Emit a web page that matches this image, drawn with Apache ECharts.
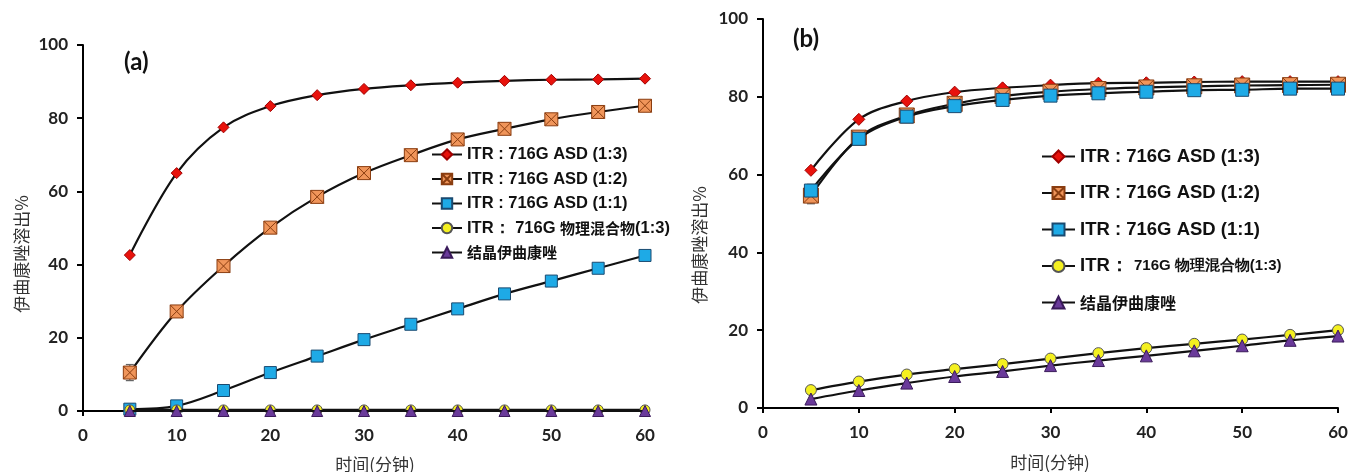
<!DOCTYPE html>
<html>
<head>
<meta charset="utf-8">
<script src="https://cdn.jsdelivr.net/npm/echarts@6/dist/echarts.min.js"></script>
<style>
html,body{margin:0;padding:0;background:#fff;}
#c{width:1356px;height:472px;}
</style>
</head>
<body>
<div id="c"></div>
<script>
// ---- data ----
const times = [5, 10, 15, 20, 25, 30, 35, 40, 45, 50, 55, 60];
const xTicks = [0, 10, 20, 30, 40, 50, 60];
const yTicks = [0, 20, 40, 60, 80, 100];
const seriesNames = ['ITR : 716G ASD (1:3)', 'ITR : 716G ASD (1:2)', 'ITR : 716G ASD (1:1)', 'ITR： 716G 物理混合物(1:3)', '结晶伊曲康唑'];
const panelLabels = ['(a)', '(b)'];
const xName = '时间(分钟)';
const yName = '伊曲康唑溶出%';

// panel (a)
const a13 = [42.6, 65.0, 77.5, 83.3, 86.3, 88.0, 89.0, 89.7, 90.2, 90.5, 90.6, 90.8];
const a12 = [10.5, 27.2, 39.6, 50.1, 58.5, 65.0, 69.9, 74.2, 77.1, 79.7, 81.7, 83.4];
const a11 = [0.5, 1.4, 5.6, 10.5, 15.0, 19.5, 23.7, 27.9, 32.0, 35.5, 39.0, 42.5];
const aPM = [0.3, 0.3, 0.3, 0.3, 0.3, 0.3, 0.3, 0.3, 0.3, 0.3, 0.3, 0.3];
const aCr = [0, 0, 0, 0, 0, 0, 0, 0, 0, 0, 0, 0];
// error bars (a): [time, low, high]
const aErr = [[5, 8.3, 12.7], [5, -0.8, 1.9], [60, 41.2, 43.8]];

// panel (b)
const b13 = [61.1, 74.2, 78.9, 81.2, 82.3, 83.0, 83.5, 83.6, 83.8, 83.9, 83.9, 83.9];
const b12 = [54.6, 69.5, 75.2, 78.2, 80.2, 81.3, 82.0, 82.4, 82.7, 82.9, 83.0, 83.1];
const b11 = [55.9, 69.2, 74.9, 77.6, 79.2, 80.3, 80.9, 81.3, 81.7, 81.8, 82.1, 82.1];
const bPM = [4.6, 6.8, 8.6, 10.0, 11.3, 12.7, 14.1, 15.4, 16.5, 17.6, 18.8, 20.0];
const bCr = [2.3, 4.5, 6.4, 8.1, 9.4, 10.9, 12.2, 13.4, 14.7, 16.0, 17.4, 18.5];
const bErr = [[5, 52.5, 57.5]];

// ---- styles ----
const markers = [
  {symbol: 'diamond', size: 11, color: '#e8120c', border: '#a00000'},
  {symbol: 'path://M0,0L10,0L10,10L0,10Z M0,0L10,10 M10,0L0,10', size: 13, color: '#f0955a', border: '#8a3d10'},
  {symbol: 'rect', size: 12, color: '#1eaae6', border: '#1a4a70'},
  {symbol: 'circle', size: 10, color: '#f4f020', border: '#555'},
  {symbol: 'triangle', size: 11, color: '#6a3a9a', border: '#3a1a5a'}
];
const tickFont = {fontFamily: 'Lato', fontWeight: 'bold', fontSize: 17, color: '#222'};
const nameFont = {fontFamily: 'Noto Sans CJK SC', fontSize: 17, fill: '#333'};

function pair(x, ys) { return x.map((t, i) => [t, ys[i]]); }

function makeAxes(gi) {
  return {
    x: {
      type: 'value', gridIndex: gi, min: 0, max: 60, interval: 10,
      axisLine: {show: true, onZero: false, lineStyle: {color: '#000', width: 2}},
      axisTick: {show: true, inside: false, length: 5, lineStyle: {color: '#000', width: 2}},
      axisLabel: Object.assign({margin: 16, formatter: v => xTicks.includes(v) ? String(v) : ''}, tickFont),
      splitLine: {show: false}
    },
    y: {
      type: 'value', gridIndex: gi, min: 0, max: 100, interval: 20,
      axisLine: {show: true, lineStyle: {color: '#000', width: 2}},
      axisTick: {show: true, inside: false, length: 6, lineStyle: {color: '#000', width: 2}},
      axisLabel: Object.assign({margin: 15, formatter: v => yTicks.includes(v) ? String(v) : ''}, tickFont),
      splitLine: {show: false}
    }
  };
}

function lineSeries(gi, idx, values, scale) {
  const m = markers[idx];
  return {
    type: 'line', name: seriesNames[idx], xAxisIndex: gi, yAxisIndex: gi,
    data: pair(times, values), smooth: 0.35,
    symbol: m.symbol, symbolSize: Math.round(m.size * scale), showSymbol: true,
    lineStyle: {color: '#111', width: 2.2},
    itemStyle: {color: m.color, borderColor: m.border, borderWidth: 1},
    emphasis: {disabled: true}, animation: false, z: 3 + idx
  };
}

function errSeries(gi, errs) {
  return {
    type: 'custom', xAxisIndex: gi, yAxisIndex: gi, data: errs, z: 2, animation: false, silent: true,
    renderItem: function (params, api) {
      const x = api.value(0), lo = api.value(1), hi = api.value(2);
      const p1 = api.coord([x, lo]), p2 = api.coord([x, hi]);
      const st = {stroke: '#666', lineWidth: 1.2};
      return {type: 'group', children: [
        {type: 'line', shape: {x1: p1[0], y1: p1[1], x2: p2[0], y2: p2[1]}, style: st},
        {type: 'line', shape: {x1: p1[0] - 4, y1: p1[1], x2: p1[0] + 4, y2: p1[1]}, style: st},
        {type: 'line', shape: {x1: p2[0] - 4, y1: p2[1], x2: p2[0] + 4, y2: p2[1]}, style: st}
      ]};
    }
  };
}

const axA = makeAxes(0), axB = makeAxes(1);

const legendText = {fontFamily: 'Liberation Sans', fontWeight: 'bold', color: '#111'};

function yNameText(cx, cy) {
  return {type: 'text', x: cx, y: cy, rotation: Math.PI / 2,
    style: Object.assign({text: yName, align: 'center', verticalAlign: 'middle'}, nameFont)};
}
function xNameText(cx, cy) {
  return {type: 'text', x: cx, y: cy,
    style: Object.assign({text: xName, align: 'center', verticalAlign: 'middle'}, nameFont)};
}

const option = {
  backgroundColor: '#fff',
  animation: false,
  grid: [
    {left: 83, right: 711, top: 45, bottom: 61},
    {left: 763, right: 18, top: 19, bottom: 64}
  ],
  xAxis: [axA.x, axB.x],
  yAxis: [axA.y, axB.y],
  title: [
    {text: panelLabels[0], left: 119, top: 45, textStyle: {fontFamily: 'Lato', fontWeight: 'bold', fontSize: 24, color: '#111'}},
    {text: panelLabels[1], left: 788, top: 22, textStyle: {fontFamily: 'Lato', fontWeight: 'bold', fontSize: 24, color: '#111'}}
  ],
  graphic: [
    yNameText(22, 254), xNameText(375, 465),
    yNameText(700, 245), xNameText(1050, 463)
  ],
  legend: [
    {
      orient: 'vertical', left: 426, top: 141, itemWidth: 30, itemHeight: 13, itemGap: 7.5,
      data: seriesNames, selectedMode: false,
      formatter: function (name) {
        if (name === seriesNames[3]) return '{a|ITR： 716G }{c|物理混合物}{a|(1:3)}';
        if (name === seriesNames[4]) return '{c|' + name + '}';
        return name;
      },
      textStyle: Object.assign({fontSize: 16.5, lineHeight: 17, rich: {
        a: {fontFamily: 'Liberation Sans', fontWeight: 'bold', fontSize: 16.5, lineHeight: 17, color: '#111'},
        c: {fontFamily: 'Noto Sans CJK SC', fontWeight: 'bold', fontSize: 15, lineHeight: 17, color: '#111'}
      }}, legendText)
    },
    {
      orient: 'vertical', left: 1036, top: 141, itemWidth: 33, itemHeight: 15, itemGap: 15.5,
      data: seriesNames, selectedMode: false,
      formatter: function (name) {
        if (name === seriesNames[3]) return '{b|ITR：} {s|716G 物理混合物(1:3)}';
        if (name === seriesNames[4]) return '{c|' + name + '}';
        return name;
      },
      textStyle: Object.assign({fontSize: 18.5, lineHeight: 21, rich: {
        b: {fontFamily: 'Liberation Sans', fontWeight: 'bold', fontSize: 18.5, lineHeight: 21, color: '#111'},
        s: {fontFamily: 'Liberation Sans', fontWeight: 'bold', fontSize: 15, lineHeight: 21, color: '#111'},
        c: {fontFamily: 'Noto Sans CJK SC', fontWeight: 'bold', fontSize: 16, lineHeight: 21, color: '#111'}
      }}, legendText)
    }
  ],
  series: [
    errSeries(0, aErr),
    lineSeries(0, 0, a13, 1), lineSeries(0, 1, a12, 1), lineSeries(0, 2, a11, 1), lineSeries(0, 3, aPM, 1), lineSeries(0, 4, aCr, 1),
    errSeries(1, bErr),
    lineSeries(1, 0, b13, 1.12), lineSeries(1, 1, b12, 1.12), lineSeries(1, 2, b11, 1.12), lineSeries(1, 3, bPM, 1.12), lineSeries(1, 4, bCr, 1.12)
  ]
};

const chart = echarts.init(document.getElementById('c'), null, {renderer: 'canvas'});
chart.setOption(option);
</script>
</body>
</html>
